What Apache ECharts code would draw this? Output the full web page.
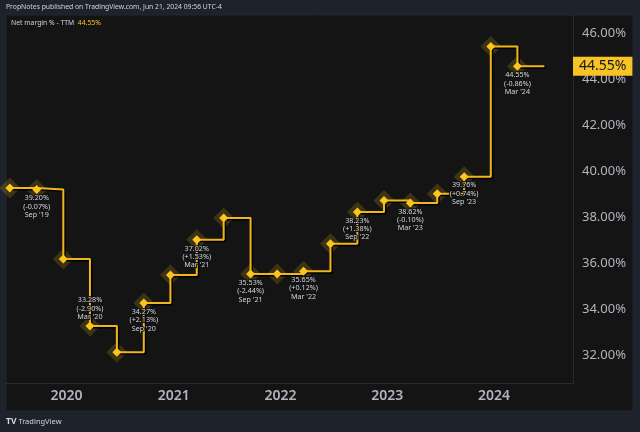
<!DOCTYPE html>
<html>
<head>
<meta charset="utf-8">
<style>
html,body{margin:0;padding:0;background:#1e222d;}
#chart{width:640px;height:432px;}
</style>
<script src="https://cdn.jsdelivr.net/npm/echarts@6/dist/echarts.min.js"></script>
</head>
<body>
<div id="chart"></div>
<script>
// ---- data ----
const periodDates = ['2019-06-21','2019-09-21','2019-12-21','2020-03-21','2020-06-21','2020-09-21','2020-12-21','2021-03-21','2021-06-21','2021-09-21','2021-12-21','2022-03-21','2022-06-21','2022-09-21','2022-12-21','2023-03-21','2023-06-21','2023-09-21','2023-12-21','2024-03-21'];
const periodLabels = ["Jun '19","Sep '19","Dec '19","Mar '20","Jun '20","Sep '20","Dec '20","Mar '21","Jun '21","Sep '21","Dec '21","Mar '22","Jun '22","Sep '22","Dec '22","Mar '23","Jun '23","Sep '23","Dec '23","Mar '24"];
const netMarginTTM = [39.27,39.20,36.18,33.28,32.14,34.27,35.49,37.02,37.97,35.53,35.53,35.65,36.85,38.23,38.72,38.62,39.02,39.76,45.41,44.55];
const labelledPeriods = ["Sep '19","Mar '20","Sep '20","Mar '21","Sep '21","Mar '22","Sep '22","Mar '23","Sep '23","Mar '24"];
const labelsAbove = ["Mar '20"];
const currentDate = '2024-06-21';
const yTickLabels = [32,34,36,38,40,42,44,46];
const xYearLabels = [2020,2021,2022,2023,2024];
const headerText = 'PropNotes published on TradingView.com, Jun 21, 2024 09:56 UTC-4';
const seriesName = 'Net margin % - TTM';

// ---- helpers ----
function utc(s){const p=s.split('-').map(Number);return Date.UTC(p[0],p[1]-1,p[2]);}
const FONT = '"Noto Sans", sans-serif';
const lastValue = netMarginTTM[netMarginTTM.length-1];

const lineData = netMarginTTM.map((v,i)=>{
  const item = {value:[utc(periodDates[i]), v]};
  const lab = periodLabels[i];
  if (labelledPeriods.indexOf(lab) >= 0) {
    const prev = i>0 ? netMarginTTM[i-1] : v;
    const ch = Math.round((v-prev)*100)/100;
    const chTxt = (ch>=0?'+':'') + ch.toFixed(2) + '%';
    const above = labelsAbove.indexOf(lab) >= 0;
    item.label = {
      show:true,
      position: above ? 'top' : 'bottom',
      distance: 0,
      formatter: v.toFixed(2)+'%\n('+chTxt+')\n'+lab,
      color:'#d1d4dc', fontSize:7.2, lineHeight:8.4, fontFamily:FONT,
      align:'center',
      textBorderColor:'#141414', textBorderWidth:2
    };
  }
  return item;
});
lineData.push({value:[utc(currentDate), lastValue], symbol:'none'});
const haloData = netMarginTTM.map((v,i)=>[utc(periodDates[i]), v]);

const chart = echarts.init(document.getElementById('chart'), null, {renderer:'canvas'});
chart.setOption({
  backgroundColor:'#1e222d',
  animation:false,
  textStyle:{fontFamily:FONT},
  graphic:[{
    type:'rect', z:-10, silent:true,
    shape:{x:6,y:15,width:627,height:396},
    style:{fill:'#141414', stroke:'#24272f', lineWidth:1}
  }],
  title:[
    {text:headerText, left:6, top:4, padding:0, textStyle:{color:'#d1d4dc', fontSize:6.8, fontWeight:'normal', fontFamily:FONT}},
    {text:seriesName+'  {v|'+lastValue.toFixed(2)+'%}', left:11, top:20, padding:0,
     textStyle:{color:'#d1d4dc', fontSize:6.8, fontWeight:'normal', fontFamily:FONT,
       rich:{v:{color:'#f7c325', fontSize:6.8, fontFamily:FONT}}}},
    {text:'{l|TV} TradingView', left:6, top:417, padding:0,
     textStyle:{color:'#d1d4dc', fontSize:7.5, fontWeight:'normal', fontFamily:FONT,
       rich:{l:{color:'#d1d4dc', fontSize:8.5, fontWeight:'bold', fontFamily:FONT}}}}
  ],
  grid:{left:6, right:67, top:15, bottom:49},
  xAxis:{
    type:'value',
    min: Date.UTC(2019,5,8), max: Date.UTC(2024,8,27),
    axisLine:{show:true, onZero:false, lineStyle:{color:'#2a2a2a', width:1}},
    axisTick:{show:false},
    splitLine:{show:false},
    axisLabel:{
      customValues: xYearLabels.map(y=>Date.UTC(y,0,1)),
      formatter: v => String(new Date(v).getUTCFullYear()),
      color:'#b2b5be', fontSize:14, fontWeight:600, fontFamily:FONT, margin:6
    }
  },
  yAxis:{
    type:'value', position:'right',
    min:30.8, max:46.78,
    axisLine:{show:true, lineStyle:{color:'#2a2a2a', width:1}},
    axisTick:{show:false},
    splitLine:{show:false},
    axisLabel:{
      customValues: yTickLabels,
      formatter: v => v.toFixed(2)+'%',
      color:'#b2b5be', fontSize:13, fontFamily:FONT,
      align:'right', margin:53
    }
  },
  series:[
    {
      type:'scatter', data:haloData, symbol:'diamond', symbolSize:21,
      itemStyle:{color:'rgba(247,197,28,0.22)'}, z:1, silent:true
    },
    {
      type:'line', name:seriesName, step:'end', data:lineData,
      symbol:'diamond', symbolSize:9, showAllSymbol:true,
      lineStyle:{color:'#f2b51d', width:2, shadowColor:'rgba(0,0,0,0.95)', shadowOffsetX:1.5, shadowOffsetY:1.5, shadowBlur:0},
      itemStyle:{color:'#fcc51e'},
      z:3,
      markLine:{
        silent:true, symbol:'none',
        lineStyle:{color:'rgba(0,0,0,0)', width:1, type:'solid'},
        data:[{yAxis:lastValue}],
        label:{
          show:true, position:'end', distance:0,
          formatter: p => Number(p.value).toFixed(2)+'%',
          backgroundColor:'#f7c325', color:'#131722',
          fontSize:14, fontFamily:FONT, padding:[3,6,2,6]
        }
      }
    }
  ]
});
</script>
</body>
</html>
